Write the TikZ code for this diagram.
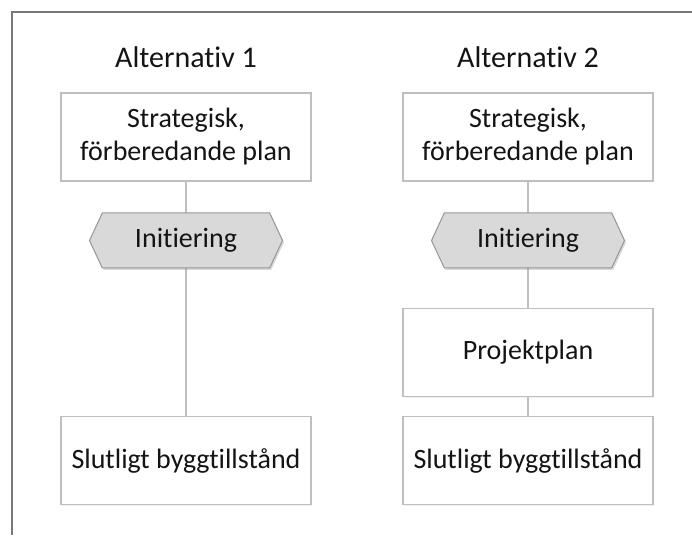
\documentclass[tikz,border=0pt]{standalone}
\usepackage{fontspec}
\setmainfont[Ligatures={NoCommon,NoRequired}]{Carlito}
\usetikzlibrary{shapes.symbols}
\usetikzlibrary{shadows}
\usetikzlibrary{positioning}

\definecolor{linegray}{RGB}{191,191,191}
\definecolor{hexfill}{RGB}{217,217,217}
\definecolor{hexline}{RGB}{150,150,150}
\definecolor{framegray}{RGB}{120,120,120}
\definecolor{textgray}{RGB}{20,20,20}

\begin{document}
\begin{tikzpicture}[x=1pt,y=1pt]
  % some styles
  \tikzset{
    planbox/.style={
      rectangle,
      minimum width=250pt,
      minimum height=88pt,
      inner sep=0pt,
      outer sep=0pt,
      align=center,
      draw=linegray,
      line width=1.2pt,
      fill=white,
      text=textgray,
      font=\fontsize{28}{33}\selectfont,
      drop shadow={opacity=0.12,shadow xshift=1pt,shadow yshift=-1.5pt}
    }
  }
  \tikzset{
    initbox/.style={
      signal,
      signal to=west and east,
      signal pointer angle=130,
      minimum width=193pt,
      minimum height=55pt,
      inner sep=0pt,
      outer sep=0pt,
      draw=hexline,
      line width=1pt,
      fill=hexfill,
      text=textgray,
      font=\fontsize{28}{33}\selectfont,
      drop shadow={opacity=0.3,shadow xshift=1.5pt,shadow yshift=-2pt}
    }
  }
  \tikzset{title/.style={anchor=base,text=textgray,font=\fontsize{30}{36}\selectfont}}
  \tikzset{conn/.style={draw=linegray,line width=1.2pt}}

  \useasboundingbox (0,0) rectangle (692,535);

  % frame
  \draw[framegray,line width=1.5pt] (12,0) -- (12,523) -- (692,523);

  % both columns
  \foreach \i/\x in {1/186,2/528} {
    \node[title] (alt\i) at (\x,467) {Alternativ \i};
    \node[planbox] (strat\i) at (\x,398) {Strategisk,\\förberedande plan};
    \node[planbox] (slut\i) at (\x,74.5) {Slutligt byggtillstånd};
  }
  \node[planbox] (proj2) at (528,182.5) {Projektplan};

  % connectors first, then the hexagons on top
  \draw[conn] (strat1) -- (slut1);
  \draw[conn] (strat2) -- (proj2);
  \draw[conn] (proj2) -- (slut2);
  \node[initbox] (init1) at (186,294.5) {Initiering};
  \node[initbox] (init2) at (528,294.5) {Initiering};

\end{tikzpicture}
\end{document}
